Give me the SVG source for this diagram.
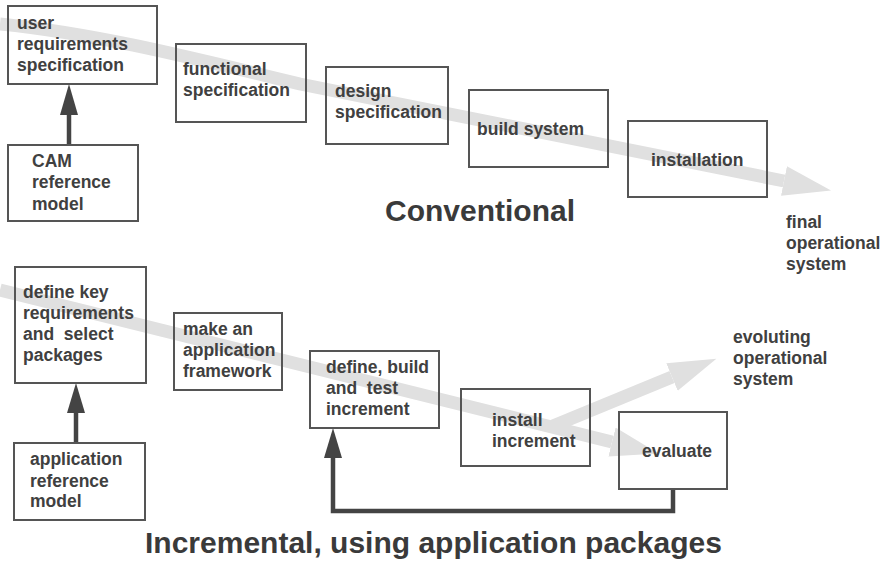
<svg xmlns="http://www.w3.org/2000/svg" width="892" height="566" viewBox="0 0 892 566">
<style>
  .box { fill: none; stroke: #555; stroke-width: 2; }
  .t { font-family: "Liberation Sans", Arial, sans-serif; font-weight: bold; font-size: 17.5px; fill: #404040; white-space: pre; }
  .title { font-family: "Liberation Sans", Arial, sans-serif; font-weight: bold; font-size: 30px; fill: #3a3a3a; }
  .band { fill: none; stroke: #e0e0e0; stroke-width: 13; stroke-linecap: butt; stroke-linejoin: round; }
  .conn { fill: none; stroke: #444; stroke-width: 4.5; }
  .head { fill: #444; }
  .ghead { fill: #e0e0e0; }
</style>
<defs>
  <marker id="gh" markerUnits="userSpaceOnUse" markerWidth="50" markerHeight="40" refX="0" refY="15" orient="auto" viewBox="0 0 50 30">
    <polygon class="ghead" points="0,0 48,15 0,30"/>
  </marker>
</defs>
<rect width="892" height="566" fill="#fff"/>
<g id="bands">
  <path class="band" d="M0,24 C100,34 200,60 300,84 L784,181" marker-end="url(#gh)"/>
  <path class="band" d="M0,290 L612,442" marker-end="url(#gh)"/>
  <path class="band" d="M553,426 L672,377" marker-end="url(#gh)"/>
</g>
<g id="connectors">
  <line class="conn" x1="69" y1="145" x2="69" y2="110"/>
  <polygon class="head" points="69,84 60,115 78,115"/>
  <line class="conn" x1="76" y1="443" x2="76" y2="408"/>
  <polygon class="head" points="76,383 67,413 85,413"/>
  <path class="conn" d="M673,489 V511 H333 V452"/>
  <polygon class="head" points="333,428 324,458 342,458"/>
</g>
<g id="user-req">
  <rect class="box" x="8" y="6" width="149" height="78"/>
  <text class="t" x="17" y="29">user</text>
  <text class="t" x="17" y="50">requirements</text>
  <text class="t" x="17" y="71">specification</text>
</g>
<g id="functional-spec">
  <rect class="box" x="176" y="44" width="130" height="78"/>
  <text class="t" x="183" y="75">functional</text>
  <text class="t" x="183" y="96">specification</text>
</g>
<g id="design-spec">
  <rect class="box" x="326" y="67" width="122" height="77"/>
  <text class="t" x="335" y="97">design</text>
  <text class="t" x="335" y="118">specification</text>
</g>
<g id="cam-ref">
  <rect class="box" x="8" y="145" width="130" height="76"/>
  <text class="t" x="32" y="167">CAM</text>
  <text class="t" x="32" y="188">reference</text>
  <text class="t" x="32" y="210">model</text>
</g>
<g id="build-system">
  <rect class="box" x="469" y="90" width="139" height="77"/>
  <text class="t" x="477" y="135">build system</text>
</g>
<g id="installation">
  <rect class="box" x="628" y="121" width="139" height="76"/>
  <text class="t" x="651" y="166">installation</text>
</g>
<g id="final-op">
  <text class="t" x="786" y="228">final</text>
  <text class="t" x="786" y="249">operational</text>
  <text class="t" x="786" y="270">system</text>
</g>
<text class="title" x="385" y="221">Conventional</text>
<g id="define-key">
  <rect class="box" x="15" y="267" width="131" height="116"/>
  <text class="t" x="23" y="298">define key</text>
  <text class="t" x="23" y="319">requirements</text>
  <text class="t" x="23" y="340">and  select</text>
  <text class="t" x="23" y="361">packages</text>
</g>
<g id="app-framework">
  <rect class="box" x="174" y="313" width="108" height="77"/>
  <text class="t" x="183" y="335">make an</text>
  <text class="t" x="183" y="356">application</text>
  <text class="t" x="183" y="377">framework</text>
</g>
<g id="define-build">
  <rect class="box" x="310" y="351" width="129" height="77"/>
  <text class="t" x="326" y="373">define, build</text>
  <text class="t" x="326" y="394">and  test</text>
  <text class="t" x="326" y="415">increment</text>
</g>
<g id="app-ref">
  <rect class="box" x="14" y="443" width="131" height="77"/>
  <text class="t" x="30" y="465">application</text>
  <text class="t" x="30" y="487">reference</text>
  <text class="t" x="30" y="507">model</text>
</g>
<g id="install-inc">
  <rect class="box" x="461" y="389" width="129" height="77"/>
  <text class="t" x="492" y="426">install</text>
  <text class="t" x="492" y="447">increment</text>
</g>
<g id="evaluate">
  <rect class="box" x="619" y="412" width="108" height="77"/>
  <text class="t" x="642" y="457">evaluate</text>
</g>
<g id="evolving-op">
  <text class="t" x="733" y="343">evoluting</text>
  <text class="t" x="733" y="364">operational</text>
  <text class="t" x="733" y="385">system</text>
</g>
<text class="title" x="145" y="553">Incremental, using application packages</text>
</svg>
